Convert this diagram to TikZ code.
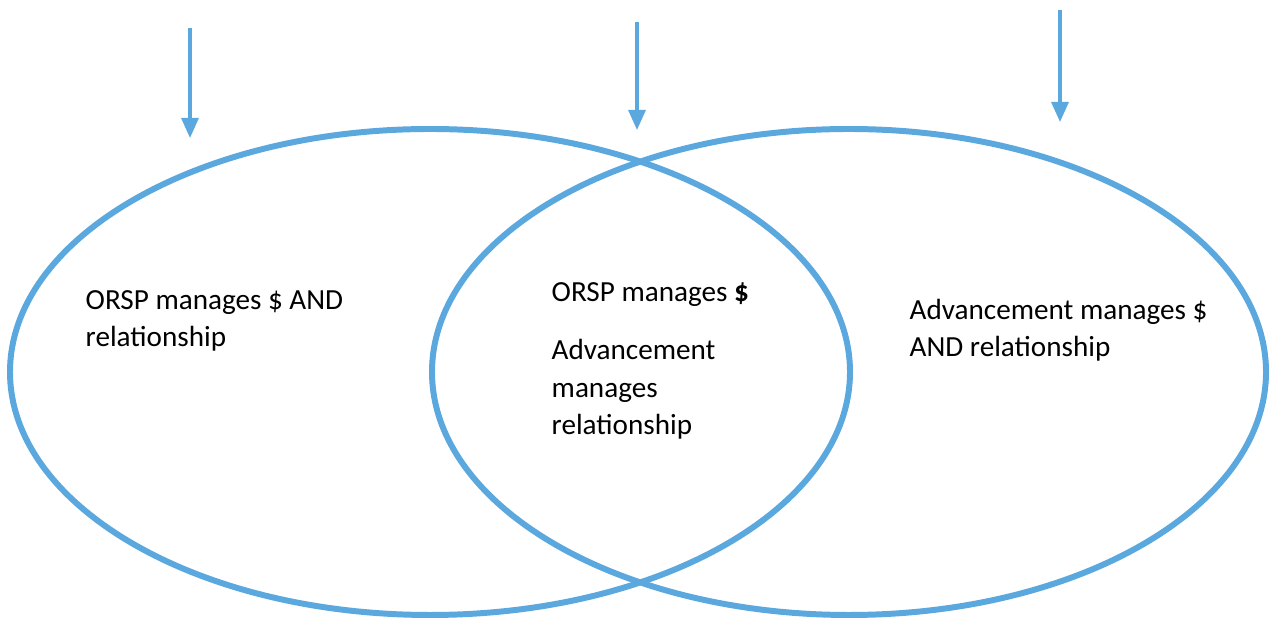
\documentclass[tikz,border=0pt]{standalone}
\usepackage{fontspec}
\setmainfont{Carlito}
\usetikzlibrary{arrows.meta}
\definecolor{vennblue}{RGB}{91,168,223}
\tikzset{
  vennline/.style={draw=vennblue, line width=1.7pt},
  pointer/.style={draw=vennblue, line width=0.9pt, -{Triangle[width=0.17cm,length=0.2cm]}},
  vtext/.style={anchor=base west, inner sep=0pt, align=left, font=\fontsize{8.3}{10.8}\selectfont}
}
\begin{document}
\begin{tikzpicture}
\useasboundingbox (0,0) rectangle (12.70,6.18);

% the two sets
\draw[vennline] (4.30,2.46) ellipse [x radius=4.20, y radius=2.43];
\draw[vennline] (8.49,2.46) ellipse [x radius=4.17, y radius=2.43];

% arrows from the top
\coordinate (lefttop) at (1.90,5.90);
\coordinate (leftend) at (1.90,4.80);
\coordinate (midtop) at (6.37,5.96);
\coordinate (midend) at (6.37,4.88);
\coordinate (righttop) at (10.60,6.08);
\coordinate (rightend) at (10.60,4.96);
\draw[pointer] (lefttop) -- (leftend);
\draw[pointer] (midtop) -- (midend);
\draw[pointer] (righttop) -- (rightend);

% texts (base = last line)
\node[vtext] (orsp) at (0.85,2.71) {ORSP manages \$ AND\\relationship};
\node[vtext] (both) at (5.51,3.16) {ORSP manages {\bfseries\$}};
\node[vtext] (shared) at (5.51,1.83) {Advancement\\manages\\relationship};
\node[vtext] (adv) at (9.09,2.61) {Advancement manages \$\\AND relationship};
\end{tikzpicture}
\end{document}
